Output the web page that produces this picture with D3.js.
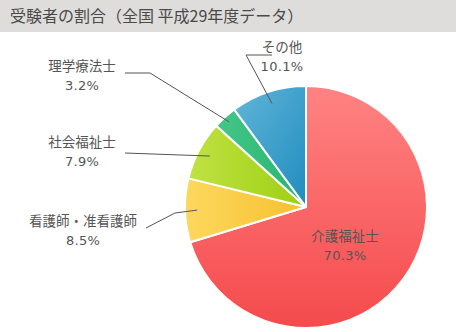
<!DOCTYPE html>
<html lang="ja">
<head>
<meta charset="utf-8">
<script src="https://cdn.jsdelivr.net/npm/d3@7"></script>
<style>
  html, body { margin: 0; padding: 0; background: #fff; }
  svg { display: block; font-family: "Noto Sans CJK JP", "Noto Sans", sans-serif; }
  .pct { font-family: "DejaVu Sans", "Noto Sans", sans-serif; }
</style>
</head>
<body>
<svg id="chart" width="456" height="332"></svg>
<script>
// 受験者の割合（全国 平成29年度）
const categories = ["介護福祉士", "看護師・准看護師", "社会福祉士", "理学療法士", "その他"];
const shares = [70.3, 8.5, 7.9, 3.2, 10.1];
const valueLabels = ["70.3%", "8.5%", "7.9%", "3.2%", "10.1%"];

// slice gradients: [light, dark, direction]
const sliceColors = [
  ["#ff8383", "#f54a4c", "v"],
  ["#fdd85e", "#f6c02e", "h"],
  ["#c0e243", "#9dcf12", "h"],
  ["#45c68a", "#25b56c", "h"],
  ["#62b6d8", "#1f8cbf", "d"]
];

const W = 456, H = 332;
const cx = 306, cy = 207, R = 121;

const svg = d3.select("#chart");

// title bar
svg.append("rect").attr("x", 0).attr("y", 0).attr("width", W).attr("height", 32).attr("fill", "#dedddc");
svg.append("text").attr("x", 10).attr("y", 22)
  .attr("font-size", 16).attr("fill", "#4a4a4a")
  .text("受験者の割合（全国 平成29年度データ）");

const defs = svg.append("defs");
sliceColors.forEach((c, i) => {
  const g = defs.append("linearGradient").attr("id", "grad" + i)
    .attr("x1", 0).attr("y1", 0)
    .attr("x2", c[2] === "v" ? 0 : 1)
    .attr("y2", c[2] === "h" ? 0 : 1);
  g.append("stop").attr("offset", "0%").attr("stop-color", c[0]);
  g.append("stop").attr("offset", "100%").attr("stop-color", c[1]);
});

const pie = d3.pie().sort(null).value(d => d)(shares);
const arc = d3.arc().innerRadius(0).outerRadius(R);

const g = svg.append("g").attr("transform", `translate(${cx},${cy})`);
g.selectAll("path.slice").data(pie).join("path")
  .attr("class", "slice")
  .attr("d", arc)
  .attr("fill", (d, i) => `url(#grad${i})`)
  .attr("stroke", "#fff").attr("stroke-width", 2).attr("stroke-linejoin", "round");

function addLabel(x, y, i) {
  const t = svg.append("g").attr("fill", "#555").attr("text-anchor", "middle");
  t.append("text").attr("x", x).attr("y", y).attr("font-size", 13.5).text(categories[i]);
  t.append("text").attr("class", "pct").attr("x", x).attr("y", y + 18.5)
    .attr("font-size", 13).attr("letter-spacing", 0.3).text(valueLabels[i]);
}

// inside label for the largest slice
addLabel(cx + 39, cy + 34, 0);

// outside labels: text centre and leader-line elbow(s)
const outside = [
  null,
  { tx: 83, ty: 226, path: [[146, 228], [175, 213]] },
  { tx: 82, ty: 147, path: [[125, 153]] },
  { tx: 82, ty: 71,  path: [[125, 73], [150, 73]] },
  { tx: 282, ty: 52, path: [[272, 55], [246, 55]] }
];

pie.forEach((d, i) => {
  const o = outside[i];
  if (!o) return;
  const a = (d.startAngle + d.endAngle) / 2;
  const rr = i === 3 ? R * 0.95 : R * 0.9;
  const end = [cx + rr * Math.sin(a), cy - rr * Math.cos(a)];
  const pts = o.path.concat([end]);
  svg.append("path")
    .attr("d", d3.line()(pts))
    .attr("fill", "none").attr("stroke", "#555").attr("stroke-width", 1);
  addLabel(o.tx, o.ty, i);
});
</script>
</body>
</html>
